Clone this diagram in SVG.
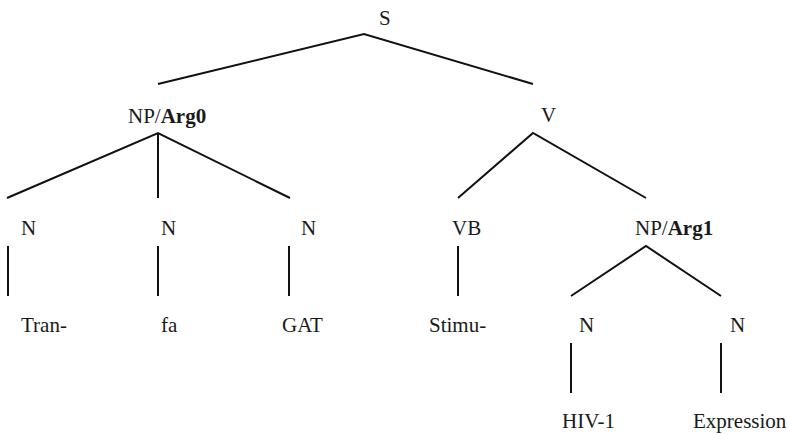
<svg xmlns="http://www.w3.org/2000/svg" width="788" height="434" viewBox="0 0 788 434">
  <style>
    .b { font-weight: bold; }
    .edge { stroke: #111; stroke-width: 2; fill: none; stroke-linecap: butt; }
  </style>
  <rect width="788" height="434" fill="#ffffff"/>

  <!-- tree edges -->
  <g id="edges">
    <path class="edge" d="M158,84 L364,34 L533,84"/>
    <path class="edge" d="M7,198 L158,133 L290,198 M158,133 L158,198"/>
    <path class="edge" d="M458,198 L533,133 L646,198"/>
    <path class="edge" d="M8,246 V296 M158,246 V296 M289,246 V296 M458,246 V296"/>
    <path class="edge" d="M571,296 L646,246 L721,296"/>
    <path class="edge" d="M571,343 V393 M721,343 V393"/>
  </g>

  <g font-family="Times New Roman, Liberation Serif, DejaVu Serif, serif" font-size="21" fill="#1a1a1a">
    <g id="n-S"><text x="379" y="25">S</text></g>
    <g id="n-NP0"><text x="128" y="123">NP/<tspan class="b">Arg0</tspan></text></g>
    <g id="n-V"><text x="541" y="122">V</text></g>

    <g id="n-N1"><text x="21" y="235">N</text></g>
    <g id="n-N2"><text x="161" y="235">N</text></g>
    <g id="n-N3"><text x="301" y="235">N</text></g>
    <g id="n-VB"><text x="452" y="235">VB</text></g>
    <g id="n-NP1"><text x="635" y="235">NP/<tspan class="b">Arg1</tspan></text></g>

    <g id="n-Tran"><text x="21" y="332">Tran-</text></g>
    <g id="n-fa"><text x="161" y="332">fa</text></g>
    <g id="n-GAT"><text x="282" y="332">GAT</text></g>
    <g id="n-Stimu"><text x="429" y="332">Stimu-</text></g>
    <g id="n-N4"><text x="579" y="332">N</text></g>
    <g id="n-N5"><text x="730" y="332">N</text></g>

    <g id="n-HIV"><text x="562" y="428">HIV-1</text></g>
    <g id="n-Expr"><text x="693" y="428">Expression</text></g>
  </g>
</svg>
